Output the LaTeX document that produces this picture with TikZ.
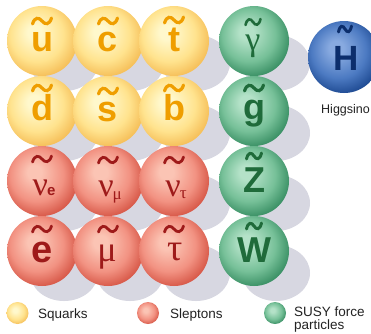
\documentclass[tikz,border=0pt]{standalone}
\usepackage{fontspec}
\newfontfamily\lsans{Liberation Sans}
\newfontfamily\lserif{Liberation Serif}
\usetikzlibrary{calc}
\definecolor{yA}{HTML}{FFF8CC}
\definecolor{yB}{HTML}{FFE38E}
\definecolor{yC}{HTML}{F6C15C}
\definecolor{rA}{HTML}{FBC4B4}
\definecolor{rB}{HTML}{F29282}
\definecolor{rC}{HTML}{D95C4C}
\definecolor{gA}{HTML}{B4E2C8}
\definecolor{gB}{HTML}{76C098}
\definecolor{gC}{HTML}{3E9368}
\definecolor{bA}{HTML}{88AAE0}
\definecolor{bB}{HTML}{4C7AC2}
\definecolor{bC}{HTML}{224E96}
\definecolor{shd}{HTML}{D7D7E1}
\definecolor{orL}{HTML}{EF9E00}
\definecolor{reL}{HTML}{9E1A1A}
\definecolor{grL}{HTML}{1F6B3A}
\definecolor{blL}{HTML}{0C2E6C}
\definecolor{txt}{HTML}{222222}
\pgfdeclareradialshading{shY}{\pgfpoint{-6bp}{7bp}}{color(0bp)=(yA); color(5bp)=(yA); color(19bp)=(yB); color(28bp)=(yC); color(50bp)=(yC)}
\pgfdeclareradialshading{shR}{\pgfpoint{-6bp}{7bp}}{color(0bp)=(rA); color(5bp)=(rA); color(19bp)=(rB); color(28bp)=(rC); color(50bp)=(rC)}
\pgfdeclareradialshading{shG}{\pgfpoint{-6bp}{7bp}}{color(0bp)=(gA); color(5bp)=(gA); color(19bp)=(gB); color(28bp)=(gC); color(50bp)=(gC)}
\pgfdeclareradialshading{shB}{\pgfpoint{-6bp}{7bp}}{color(0bp)=(bA); color(5bp)=(bA); color(19bp)=(bB); color(28bp)=(bC); color(50bp)=(bC)}
\newcommand\tld[5]{\draw[#4, line width=#5, line cap=round, shift={(#1,#2)}, xscale=#3/18] (-9,3) .. controls (-7,-4) and (-3,-4) .. (0,0) .. controls (3,4) and (7,4) .. (9,-3);}
\newcommand\shdw[2]{\fill[shd] ($(#1,#2)+(22,22)$) ellipse [x radius=34, y radius=28];}
\tikzset{
  ball/.style={circle, inner sep=0pt, minimum size=70pt, draw=none},
  yb/.style={ball, shading=shY},
  rb/.style={ball, shading=shR},
  gb/.style={ball, shading=shG},
  lg/.style={circle, inner sep=0pt, minimum size=22pt, draw=none},
  sansL/.style={anchor=base, inner sep=0pt, font=\lsans\bfseries\fontsize{36}{36}\selectfont},
  serL/.style={anchor=base, inner sep=0pt, font=\lserif\fontsize{34}{34}\selectfont},
  lab/.style={anchor=base west, inner sep=0pt, text=txt, font=\lsans\fontsize{13.5}{13.5}\selectfont},
}
\begin{document}
\begin{tikzpicture}[x=1pt, y=-1pt]
\useasboundingbox (0,0) rectangle (371,333);
\clip (0,0) rectangle (371,333);
% shadows
\foreach \cx in {42,108,174,254}{\foreach \cy in {41,111,181,251}{\shdw{\cx}{\cy}}}
% spheres
\node[yb] (su) at (42,41) {};
\node[yb] (sc) at (108,41) {};
\node[yb] (st) at (174,41) {};
\node[yb] (sd) at (42,111) {};
\node[yb] (ss) at (108,111) {};
\node[yb] (sb) at (174,111) {};
\node[rb] (sne) at (42,181) {};
\node[rb] (snm) at (108,181) {};
\node[rb] (snt) at (174,181) {};
\node[rb] (se) at (42,251) {};
\node[rb] (sm) at (108,251) {};
\node[rb] (sta) at (174,251) {};
\node[gb] (sga) at (254,41) {};
\node[gb] (sg) at (254,111) {};
\node[gb] (sz) at (254,181) {};
\node[gb] (sw) at (254,251) {};
\node[ball, minimum size=72pt, shading=shB] (sh) at (344,57) {};
% squark letters
\node[sansL, text=orL] (lu) at (42,51) {u};
\node[sansL, text=orL] (lc) at (108,51) {c};
\node[sansL, text=orL] (lt) at (174,51) {t};
\node[sansL, text=orL] (ld) at (42,120) {d};
\node[sansL, text=orL] (ls) at (108,121) {s};
\node[sansL, text=orL] (lb) at (174,120) {b};
\tld{42}{21}{19}{orL}{3.2}
\tld{108}{21}{19}{orL}{3.2}
\tld{174}{20}{19}{orL}{3.2}
\tld{42}{88}{19}{orL}{3.2}
\tld{108}{91}{19}{orL}{3.2}
\tld{174}{88}{19}{orL}{3.2}
% slepton letters
\node[serL, text=reL] (lne) at (44,195) {ν\kern-1pt{\lsans\bfseries\fontsize{15}{15}\selectfont e}};
\node[serL, text=reL] (lnm) at (110,196) {ν\kern-1pt\raisebox{-3pt}{\fontsize{17}{17}\selectfont μ}};
\node[serL, text=reL] (lnt) at (176,196) {ν\kern-1pt\raisebox{-2pt}{\fontsize{17}{17}\selectfont τ}};
\node[sansL, text=reL, font=\lsans\bfseries\fontsize{38}{38}\selectfont] (le) at (42,262) {e};
\node[serL, text=reL, font=\lserif\fontsize{36}{36}\selectfont] (lm) at (107,261) {μ};
\node[serL, text=reL, font=\lserif\fontsize{38}{38}\selectfont] (lta) at (175,260) {τ};
\tld{42}{159}{19}{reL}{2.8}
\tld{108}{160}{19}{reL}{2.8}
\tld{174}{160}{19}{reL}{2.8}
\tld{42}{229}{19}{reL}{2.8}
\tld{108}{229}{19}{reL}{2.8}
\tld{174}{229}{19}{reL}{2.8}
% force particle letters
\node[serL, text=grL] (lga) at (253,50) {γ};
\node[sansL, text=grL] (lg) at (254,119) {g};
\node[sansL, text=grL] (lz) at (254,192) {Z};
\node[sansL, text=grL] (lw) at (254,262) {W};
\tld{253}{22}{15}{grL}{2.6}
\tld{254}{88}{19}{grL}{3.2}
\tld{254}{156}{15}{grL}{3.0}
\tld{254}{226}{15}{grL}{3.0}
% higgsino
\node[sansL, text=blL, font=\lsans\bfseries\fontsize{35}{35}\selectfont] (lh) at (346,70) {H};
\tld{345}{29}{13}{blL}{3.0}
\node[anchor=base west, inner sep=0pt, text=txt, font=\lsans\fontsize{12.5}{12.5}\selectfont] (th) at (321,113) {Higgsino};
% legend
\node[lg, shading=shY] (ky) at (17.5,313) {};
\node[lg, shading=shR] (kr) at (148,313) {};
\node[lg, shading=shG] (kg) at (275,313) {};
\node[lab] (ty) at (38,318) {Squarks};
\node[lab] (tr) at (170,318) {Sleptons};
\node[lab] (tg1) at (294,316) {SUSY force};
\node[lab] (tg2) at (294,329) {particles};
\end{tikzpicture}
\end{document}
